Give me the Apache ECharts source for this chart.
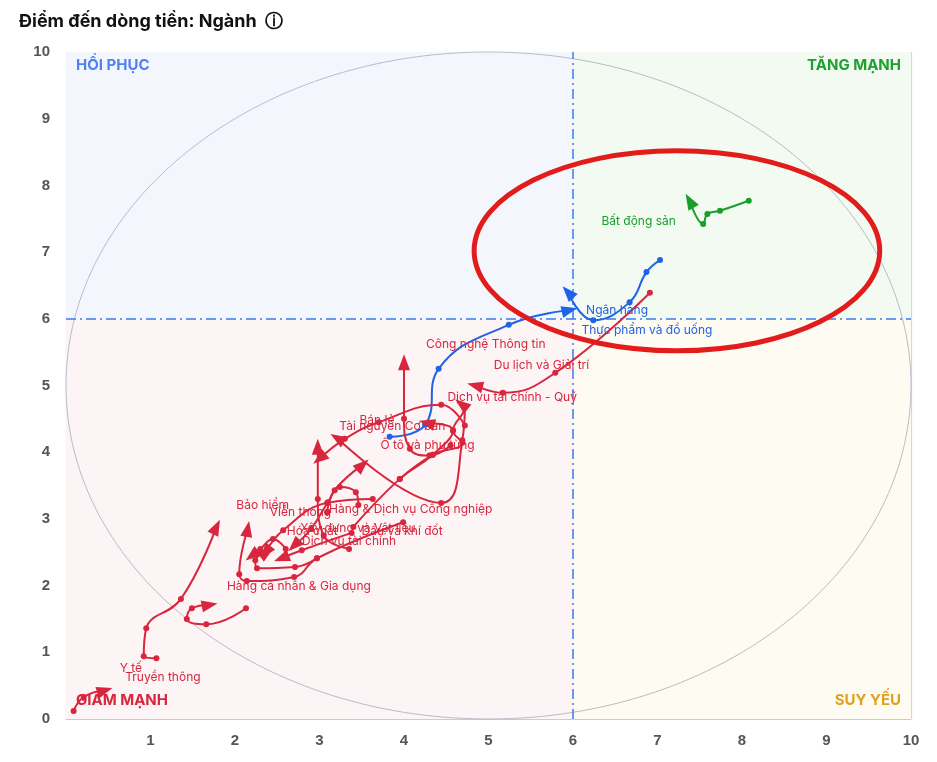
<!DOCTYPE html>
<html><head><meta charset="utf-8">
<script src="https://cdn.jsdelivr.net/npm/echarts@6/dist/echarts.min.js"></script>
<style>html,body{margin:0;padding:0;background:#fff;}#c{width:937px;height:762px;}</style>
</head><body><div id="c"></div>
<script>
const RED='#d7263d', BLUE='#1f63e6', GREEN='#1a9e2a';
const xTicks=[0,1,2,3,4,5,6,7,8,9,10];
const yTicks=[0,1,2,3,4,5,6,7,8,9,10];
const threshold=6;
const names=['Bất động sản','Ngân hàng','Thực phẩm và đồ uống','Du lịch và Giải trí','Công nghệ Thông tin','Dịch vụ tài chính - Quỹ','Bán lẻ','Tài nguyên Cơ bản','Ô tô và phụ tùng','Hàng & Dịch vụ Công nghiệp','Viễn thông','Bảo hiểm','Xây dựng và Vật liệu','Hóa chất','Dầu và khí đốt','Dịch vụ tài chính','Hàng cá nhân & Gia dụng','Y tế','Truyền thông','Tiện ích'];
const colors=[GREEN,BLUE,BLUE,RED,RED,RED,RED,RED,RED,RED,RED,RED,RED,RED,RED,RED,RED,RED,RED,RED];
const trails=[
 [[8.08,7.77],[7.74,7.62],[7.59,7.57],[7.54,7.42],[7.38,7.77]],
 [[7.03,6.88],[6.87,6.70],[6.67,6.25],[6.24,5.98],[5.94,6.40]],
 [[3.83,4.23],[4.25,4.41],[4.41,5.25],[5.24,5.91],[5.96,6.13]],
 [[6.91,6.39],[5.79,5.19],[5.17,4.89],[4.84,5.00]],
 [[4.55,4.10],[4.30,3.95],[4.07,4.05],[4.00,4.50],[4.00,5.35]],
 [[3.95,3.60],[4.34,3.96],[4.69,4.14],[4.58,4.32],[4.72,4.68],[4.68,4.72]],
 [[4.72,4.40],[4.44,4.71],[3.70,4.45],[3.30,4.20],[3.00,3.90]],
 [[4.72,4.68],[4.69,4.18],[4.44,3.24],[3.21,4.21]],
 [[3.40,2.88],[3.95,3.60],[4.34,3.96],[4.58,4.33],[4.27,4.44]],
 [[3.09,3.10],[3.18,3.43],[3.51,3.81]],
 [[3.35,2.55],[3.05,2.75],[2.98,3.30],[2.98,4.08]],
 [[3.99,2.95],[2.97,2.41],[2.70,2.13],[2.14,2.07],[2.05,2.17],[2.15,2.85]],
 [[3.46,3.21],[3.43,3.40],[3.24,3.48],[3.10,3.25],[2.90,2.85],[2.70,2.60]],
 [[3.63,3.30],[3.09,3.24],[2.57,2.83],[2.36,2.50]],
 [[3.38,2.79],[2.79,2.53],[2.55,2.41]],
 [[2.97,2.41],[2.71,2.28],[2.26,2.26],[2.24,2.38],[2.38,2.50]],
 [[2.60,2.55],[2.45,2.70],[2.30,2.55],[2.20,2.45]],
 [[1.07,0.91],[0.92,0.94],[0.95,1.36],[1.36,1.80],[1.78,2.88]],
 [[2.13,1.66],[1.66,1.42],[1.43,1.50],[1.49,1.66],[1.70,1.71]],
 [[0.09,0.12],[0.21,0.33],[0.46,0.43]]
];
// label placement: [point index, [dx, dy] in px from the point]
const labelAt=[[4,[-85,23]],[4,[22,20]],[4,[15,20]],[3,[22,-20]],[4,[22,-18]],[5,[-10,-5]],[4,[44,-37]],[3,[6,-10]],[4,[-43,22]],[0,[2,-3]],[3,[-48,66]],[5,[-10,-23]],[0,[-58,23]],[3,[25,-19]],[0,[10,-2]],[0,[-15,-17]],[3,[-21,32]],[1,[-24,12]],[1,[-81,53]],[-1,null]];

const series=[];
trails.forEach((t,i)=>{
  const data=t.map((p,j)=>{
    const d={value:p};
    if(j===t.length-1){d.symbol='triangle';d.symbolSize=[12,16];}
    if(labelAt[i][0]===j){
      const sz=(j===t.length-1)?[12,16]:[6,6];
      const off=labelAt[i][1];
      d.label={show:true,formatter:names[i],position:[sz[0]/2+off[0],sz[1]/2+off[1]],align:'left',verticalAlign:'middle',color:colors[i],fontSize:12,fontFamily:'Inter'};
    }
    return d;
  });
  series.push({name:names[i],type:'line',smooth:0.45,data,symbol:'circle',symbolSize:6,showSymbol:true,
    lineStyle:{width:2,color:colors[i]},itemStyle:{color:colors[i]},z:5,labelLayout:{hideOverlap:false}});
});
series.push({type:'line',data:[],silent:true,
  markArea:{silent:true,data:[
   [{coord:[0,threshold],itemStyle:{color:'#f3f7fd'}},{coord:[threshold,10]}],
   [{coord:[threshold,threshold],itemStyle:{color:'#f2faf2'}},{coord:[10,10]}],
   [{coord:[0,0],itemStyle:{color:'#fdf4f5'}},{coord:[threshold,threshold]}],
   [{coord:[threshold,0],itemStyle:{color:'#fdfbf2'}},{coord:[10,threshold]}]]},
  markLine:{silent:true,symbol:'none',label:{show:false},lineStyle:{color:'#3b7bf0',type:[10,4,2,4],width:1.5},
   data:[{xAxis:threshold},{yAxis:threshold}]},z:1});

const chart=echarts.init(document.getElementById('c'));
const option={
  animation:false,
  title:{text:'Điểm đến dòng tiền: Ngành  ⓘ',left:14,top:8,textStyle:{fontSize:18,fontWeight:'bold',color:'#111',fontFamily:'Inter'}},
  grid:{left:66,right:26,top:52,bottom:43},
  xAxis:{type:'value',min:0,max:10,interval:1,axisLine:{lineStyle:{color:'#c8ccd4'}},axisTick:{show:false},
    splitLine:{lineStyle:{color:'#d3d6dc',width:1.2}},
    axisLabel:{color:'#555',fontSize:15,fontWeight:'bold',margin:14,formatter:v=>v===0?'':v}},
  yAxis:{type:'value',min:0,max:10,interval:1,axisLine:{show:true,lineStyle:{color:'#c8ccd4'}},axisTick:{show:false},
    splitLine:{lineStyle:{color:'#d3d6dc',width:1.2}},
    axisLabel:{color:'#555',fontSize:15,fontWeight:'bold',margin:16}},
  series
};
chart.setOption(option);
trails.forEach((t,i)=>{
  const n=t.length;
  const a=chart.convertToPixel({gridIndex:0},t[n-2]), b=chart.convertToPixel({gridIndex:0},t[n-1]);
  series[i].data[n-1].symbolRotate=Math.atan2(-(b[0]-a[0]),-(b[1]-a[1]))*180/Math.PI;
});
const P=p=>chart.convertToPixel({gridIndex:0},p);
const c=P([5,5]), r=P([10,0]);
const o=P([7.23,7.02]), o2=P([9.63,5.52]);
const qfont={fontSize:15,fontWeight:'bold',fontFamily:'Inter'};
const tl=P([0,10]), br=P([10,0]);
option.graphic=[
 {type:'ellipse',shape:{cx:c[0],cy:c[1],rx:r[0]-c[0],ry:r[1]-c[1]},style:{fill:'none',stroke:'#b9bcc8',lineWidth:1},z:2,silent:true},
 {type:'ellipse',shape:{cx:o[0],cy:o[1],rx:o2[0]-o[0],ry:o2[1]-o[1]},style:{fill:'none',stroke:'#e21b1b',lineWidth:5},z:20,silent:true},
 {type:'text',left:tl[0]+10,top:tl[1]+6,style:Object.assign({text:'HỒI PHỤC',fill:'#4f82f0'},qfont),z:10},
 {type:'text',right:937-br[0]+10,top:tl[1]+6,style:Object.assign({text:'TĂNG MẠNH',fill:'#1ea02e'},qfont),z:10},
 {type:'text',left:tl[0]+10,top:br[1]-26,style:Object.assign({text:'GIẢM MẠNH',fill:'#d7263d'},qfont),z:10},
 {type:'text',right:937-br[0]+10,top:br[1]-26,style:Object.assign({text:'SUY YẾU',fill:'#e0a21e'},qfont),z:10}
];
chart.setOption(option);
</script></body></html>
